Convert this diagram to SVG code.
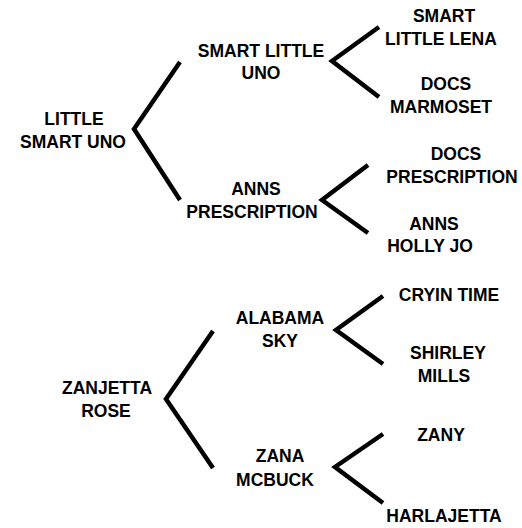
<svg xmlns="http://www.w3.org/2000/svg" width="522" height="528" viewBox="0 0 522 528">
<style>
text{font-family:"Liberation Sans",Arial,sans-serif;font-weight:bold;font-size:17.5px;fill:#000;text-anchor:middle}
.c{fill:none;stroke:#000;stroke-width:4.5;stroke-linejoin:miter;stroke-linecap:butt}
</style>
<rect width="522" height="528" fill="#fff"/>
<g id="connectors">
<polyline class="c" points="180,62 134,129 180,200"/>
<polyline class="c" points="379,27 332,61 379,97"/>
<polyline class="c" points="368,165 322,200 368,233"/>
<polyline class="c" points="213,331 166,399 213,468"/>
<polyline class="c" points="383,296 336,330 383,364"/>
<polyline class="c" points="383,434 335,467 383,503"/>
</g>
<g id="little-smart-uno"><text x="74" y="125">LITTLE</text><text x="73" y="148">SMART UNO</text></g>
<g id="smart-little-uno"><text x="261" y="57">SMART LITTLE</text><text x="261" y="79">UNO</text></g>
<g id="anns-prescription"><text x="256" y="195">ANNS</text><text x="252" y="218">PRESCRIPTION</text></g>
<g id="smart-little-lena"><text x="444" y="22">SMART</text><text x="441" y="45">LITTLE LENA</text></g>
<g id="docs-marmoset"><text x="446" y="90">DOCS</text><text x="441" y="113">MARMOSET</text></g>
<g id="docs-prescription"><text x="456" y="160">DOCS</text><text x="452" y="183">PRESCRIPTION</text></g>
<g id="anns-holly-jo"><text x="434" y="230">ANNS</text><text x="430" y="252">HOLLY JO</text></g>
<g id="zanjetta-rose"><text x="107" y="394">ZANJETTA</text><text x="106" y="417">ROSE</text></g>
<g id="alabama-sky"><text x="280" y="324">ALABAMA</text><text x="280" y="347">SKY</text></g>
<g id="zana-mcbuck"><text x="280" y="462">ZANA</text><text x="275" y="486">MCBUCK</text></g>
<g id="cryin-time"><text x="449" y="301">CRYIN TIME</text></g>
<g id="shirley-mills"><text x="448" y="359">SHIRLEY</text><text x="444" y="382">MILLS</text></g>
<g id="zany"><text x="441" y="441">ZANY</text></g>
<g id="harlajetta"><text x="444" y="522">HARLAJETTA</text></g>
</svg>
